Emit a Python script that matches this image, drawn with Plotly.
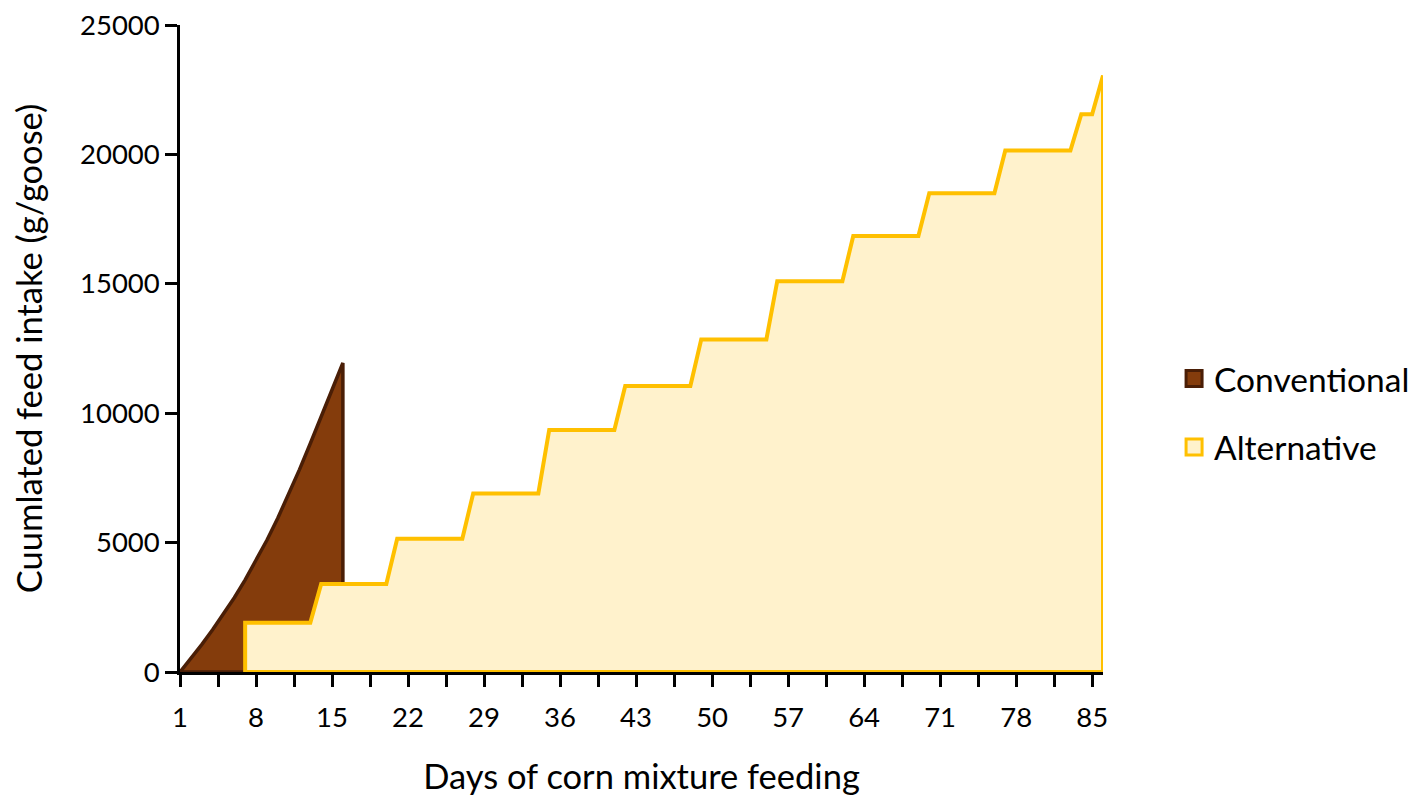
import plotly.graph_objects as go

# ---- data ----
conv_days = list(range(1, 17))
conventional = [0, 520, 1060, 1630, 2230, 2870, 3560, 4300, 5090, 5940,
                6850, 7820, 8830, 9860, 10900, 11940]
# alternative: cumulated intake, starting day 7 (level changes on these days)
alt_days = list(range(7, 87))
alt_change_days = [7, 14, 21, 28, 35, 42, 49, 56, 63, 70, 77, 84, 86]
alt_change_vals = [1900, 3400, 5150, 6900, 9350, 11050, 12850, 15100, 16850, 18500, 20150, 21550, 23050]
alternative = []
_cur = 0
for d in alt_days:
    if d in alt_change_days:
        _cur = alt_change_vals[alt_change_days.index(d)]
    alternative.append(_cur)

tick_labels = ["1", "8", "15", "22", "29", "36", "43", "50", "57", "64", "71", "78", "85"]
y_ticks = [0, 5000, 10000, 15000, 20000, 25000]

FONT = "Lato"
TICK_SIZE = 27.5
TEXT_SIZE = 34.5
CONV_FILL, CONV_LINE = "#843C0C", "#4A1E06"
ALT_FILL, ALT_LINE = "#FFF2CC", "#FFC000"

def closed(xs, ys):
    return [xs[0]] + xs + [xs[-1], xs[0]], [0] + ys + [0, 0]

fig = go.Figure()
cx, cy = closed(conv_days, conventional)
fig.add_trace(go.Scatter(x=cx, y=cy, fill="toself", mode="lines", showlegend=False,
                         fillcolor=CONV_FILL, line=dict(color=CONV_LINE, width=3.5), hoverinfo="skip"))
ax, ay = closed(alt_days, alternative)
fig.add_trace(go.Scatter(x=ax, y=ay, fill="toself", mode="lines", showlegend=False,
                         fillcolor=ALT_FILL, line=dict(color=ALT_LINE, width=4), hoverinfo="skip"))
# legend entries (square swatches)
fig.add_trace(go.Scatter(x=[None], y=[None], mode="markers", name="Conventional", legendgroup="a",
                         marker=dict(symbol="square", size=20, color=CONV_FILL,
                                     line=dict(color=CONV_LINE, width=3))))
fig.add_trace(go.Scatter(x=[None], y=[None], mode="markers", name="Alternative", legendgroup="b",
                         marker=dict(symbol="square", size=20, color=ALT_FILL,
                                     line=dict(color=ALT_LINE, width=3))))

# tick positions: labels every 7 days, unlabeled ticks halfway
tickvals, ticktext = [], []
for i, lab in enumerate(tick_labels):
    v = float(lab)
    tickvals.append(v)
    ticktext.append(lab)
    if i < len(tick_labels) - 1:
        tickvals.append(v + 3.5)
        ticktext.append("")

fig.update_layout(
    width=1418, height=797,
    margin=dict(l=172, r=323, t=17, b=133, autoexpand=False),
    plot_bgcolor="white", paper_bgcolor="white",
    font=dict(family=FONT, size=TEXT_SIZE, color="black"),
    showlegend=True,
    legend=dict(x=1.077, y=0.40, xanchor="left", yanchor="middle",
                font=dict(size=33.5, family=FONT), tracegroupgap=22,
                itemwidth=30, bgcolor="rgba(0,0,0,0)"),
    xaxis=dict(range=[1, 86], tickmode="array", tickvals=tickvals, ticktext=ticktext,
               showgrid=False, zeroline=False, showline=True, linecolor="black", linewidth=2.5,
               ticks="outside", ticklen=12, tickwidth=2.5, tickcolor="black", automargin=False,
               tickfont=dict(size=TICK_SIZE, family=FONT), ticklabeloverflow="allow",
               ticklabelstandoff=7,
               title=dict(text="Days of corn mixture feeding", font=dict(size=TEXT_SIZE, family=FONT), standoff=34)),
    yaxis=dict(range=[0, 25000], tickmode="array", tickvals=y_ticks,
               ticktext=[str(v) for v in y_ticks],
               showgrid=False, zeroline=False, showline=True, linecolor="black", linewidth=2.5,
               ticks="outside", ticklen=12, tickwidth=2.5, tickcolor="black", automargin=False,
               tickfont=dict(size=TICK_SIZE, family=FONT), ticklabeloverflow="allow",
               title=dict(text="Cuumlated feed intake (g/goose)", font=dict(size=TEXT_SIZE, family=FONT), standoff=46)),
)

fig.write_html("out.html")
